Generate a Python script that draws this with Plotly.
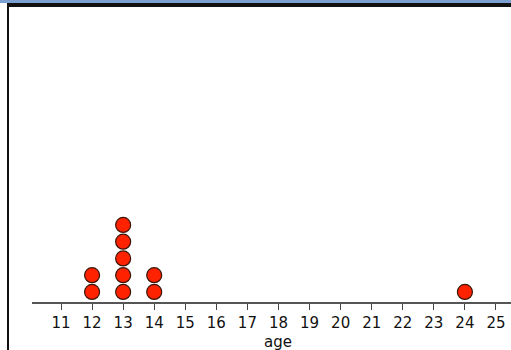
import plotly.graph_objects as go
from collections import Counter

# Ages recorded, one dot per person
ages = [12, 12, 13, 13, 13, 13, 13, 14, 14, 24]
tick_values = list(range(11, 26))
tick_labels = [str(v) for v in tick_values]
axis_title = "age"

# Stack repeated values vertically
counts = Counter()
xs, ys = [], []
for a in ages:
    counts[a] += 1
    xs.append(a)
    ys.append(counts[a])

W, H = 511, 350
left, bottom = 32, 48
plot_w = W - left
plot_h = H - bottom
px_per_unit = 31.07
x0 = 11 - (61 - left) / px_per_unit
x1 = x0 + plot_w / px_per_unit
dy = 16.75
y0 = 0.4
y1 = y0 + plot_h / dy

fig = go.Figure()
fig.add_trace(go.Scatter(
    x=xs, y=ys, mode="markers",
    marker=dict(size=15, color="#ff2200",
                line=dict(color="#3a1408", width=1.2)),
    hoverinfo="x",
))

def px_x(p):
    return (p - left) / plot_w

def px_y(p):
    return (plot_h - p) / plot_h

fig.update_layout(
    width=W, height=H,
    margin=dict(l=left, r=0, t=0, b=bottom),
    plot_bgcolor="white", paper_bgcolor="white",
    showlegend=False,
    font=dict(family="DejaVu Sans", size=15, color="#111111"),
    xaxis=dict(
        range=[x0, x1], tickmode="array", tickvals=tick_values,
        ticktext=tick_labels, showgrid=False, zeroline=False,
        showline=True, linecolor="#555555", linewidth=2,
        ticks="outside", ticklen=6, tickcolor="#444444", tickwidth=1,
        tickfont=dict(size=15),
        fixedrange=True,
    ),
    yaxis=dict(range=[y0, y1], visible=False, fixedrange=True),
    annotations=[
        dict(text=axis_title, xref="x", yref="paper", x=18, y=px_y(342),
             xanchor="center", yanchor="middle", showarrow=False,
             font=dict(size=15, color="#111111")),
    ],
    shapes=[
        # header strip
        dict(type="rect", xref="paper", yref="paper",
             x0=px_x(0), x1=px_x(W), y0=px_y(3), y1=px_y(0),
             fillcolor="#7a9fd0", line=dict(width=0), layer="above"),
        dict(type="rect", xref="paper", yref="paper",
             x0=px_x(7), x1=px_x(W), y0=px_y(7), y1=px_y(3),
             fillcolor="#111111", line=dict(width=0), layer="above"),
        # left border
        dict(type="rect", xref="paper", yref="paper",
             x0=px_x(7), x1=px_x(9), y0=px_y(H), y1=px_y(3),
             fillcolor="#111111", line=dict(width=0), layer="above"),
    ],
)

fig.write_html("out.html")
